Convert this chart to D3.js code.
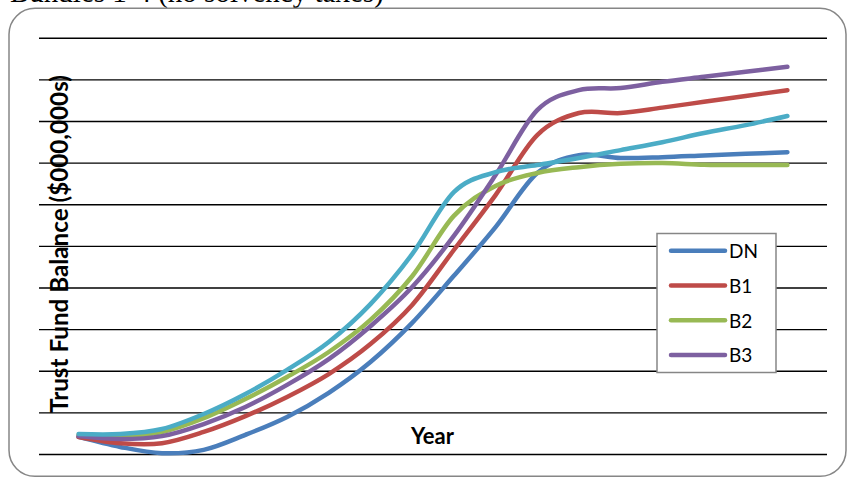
<!DOCTYPE html>
<html>
<head>
<meta charset="utf-8">
<script src="https://cdn.jsdelivr.net/npm/d3@7"></script>
<style>
  html, body { margin: 0; padding: 0; background: #fff; overflow: hidden; }
  svg { display: block; }
</style>
</head>
<body>
<svg id="chart" width="848" height="479"></svg>
<script>
// Projection years (category axis, labels hidden as in the printed report)
const years = ["2013","2014","2015","2016","2017","2018","2019","2020","2021",
               "2022","2023","2024","2025","2026","2027","2028","2029","2030"];

// Trust fund balance by scenario ($000,000s, gridline = 100)
const seriesDN = [41, 17, 2, 10, 46, 89, 147, 221, 315, 428, 545, 675, 718, 711, 713, 717, 721, 725];
const seriesB1 = [41, 26, 26, 53, 91, 137, 192, 264, 358, 490, 622, 766, 819, 819, 832, 846, 860, 874];
const seriesB2 = [46, 43, 53, 86, 132, 185, 245, 322, 427, 572, 644, 675, 689, 697, 699, 695, 694, 694];
const seriesB3 = [43, 36, 43, 72, 113, 166, 228, 307, 401, 524, 670, 826, 874, 879, 894, 906, 918, 930];
const seriesB4 = [48, 48, 60, 96, 144, 202, 269, 360, 480, 629, 677, 694, 711, 730, 749, 771, 790, 812];

const seriesNames  = ["DN", "B1", "B2", "B3", "B4"];
const seriesColors = ["#4A7EBB", "#BE4B48", "#98B954", "#7D60A0", "#4BACC6"];
const legendNames  = ["DN", "B1", "B2", "B3"];

const yTicks = [0, 100, 200, 300, 400, 500, 600, 700, 800, 900, 1000];

const titleText  = "Bundles 1-4 (no solvency taxes)";
const yAxisTitle = "Trust Fund Balance ($000,000s)";
const xAxisTitle = "Year";

const allSeries = [seriesDN, seriesB1, seriesB2, seriesB3, seriesB4].map((vals, i) => ({
  name: seriesNames[i],
  color: seriesColors[i],
  values: vals.map((v, j) => ({ year: years[j], value: v }))
}));

const svg = d3.select("#chart");
const plot = { left: 39, right: 827, top: 37.7, bottom: 454 };

const x = d3.scalePoint().domain(years).range([plot.left, plot.right]).padding(0.95);
const y = d3.scaleLinear().domain([0, 1000]).range([plot.bottom, plot.top]);

// Caption above the chart frame
svg.append("text")
  .attr("x", 10).attr("y", 1.5)
  .attr("font-family", "'Liberation Serif', 'Times New Roman', serif")
  .attr("font-size", 29)
  .attr("fill", "#000")
  .text(titleText);

// Rounded chart frame
svg.append("rect")
  .attr("x", 9).attr("y", 8.3)
  .attr("width", 837).attr("height", 468)
  .attr("rx", 26).attr("ry", 26)
  .attr("fill", "#fff")
  .attr("stroke", "#868686")
  .attr("stroke-width", 1.5);

// Horizontal gridlines
const grid = svg.append("g")
  .attr("transform", `translate(${plot.left},0)`)
  .call(d3.axisLeft(y).tickValues(yTicks).tickSize(-(plot.right - plot.left)).tickFormat(""));
grid.select(".domain").remove();
grid.selectAll(".tick line").attr("stroke", "#000").attr("stroke-width", 1.4);

// Axis titles
const yTitle = svg.append("text")
  .attr("transform", "translate(68,244) rotate(-90)")
  .attr("text-anchor", "middle")
  .attr("font-family", "Lato, 'Open Sans', sans-serif")
  .attr("font-weight", "bold")
  .attr("font-size", 22)
  .attr("fill", "#000")
  .text(yAxisTitle);
const yLen = yTitle.node().getComputedTextLength();
yTitle.attr("font-size", 22 * 338 / yLen);

svg.append("text")
  .attr("x", 432.5).attr("y", 444)
  .attr("text-anchor", "middle")
  .attr("font-family", "Lato, 'Open Sans', sans-serif")
  .attr("font-weight", "bold")
  .attr("font-size", 22)
  .attr("fill", "#000")
  .text(xAxisTitle);

// Smoothed scenario lines
const line = d3.line()
  .x(d => x(d.year))
  .y(d => y(d.value))
  .curve(d3.curveCardinal.tension(0));

svg.append("g").selectAll("path")
  .data(allSeries)
  .join("path")
  .attr("d", d => line(d.values))
  .attr("fill", "none")
  .attr("stroke", d => d.color)
  .attr("stroke-width", 4.5)
  .attr("stroke-linecap", "round")
  .attr("stroke-linejoin", "round");

// Legend
const legend = svg.append("g");
legend.append("rect")
  .attr("x", 657).attr("y", 233.5)
  .attr("width", 119).attr("height", 139)
  .attr("fill", "#fff")
  .attr("stroke", "#868686")
  .attr("stroke-width", 1.5);

const items = legend.selectAll("g.item")
  .data(allSeries.filter(s => legendNames.includes(s.name)))
  .join("g")
  .attr("class", "item")
  .attr("transform", (d, i) => `translate(0,${250.7 + i * 34.8})`);
items.append("line")
  .attr("x1", 671).attr("x2", 725)
  .attr("stroke", d => d.color)
  .attr("stroke-width", 4.5)
  .attr("stroke-linecap", "round");
items.append("text")
  .attr("x", 729).attr("y", 7.2)
  .attr("font-family", "Lato, 'Open Sans', sans-serif")
  .attr("font-size", 19)
  .attr("fill", "#000")
  .text(d => d.name);
</script>
</body>
</html>
